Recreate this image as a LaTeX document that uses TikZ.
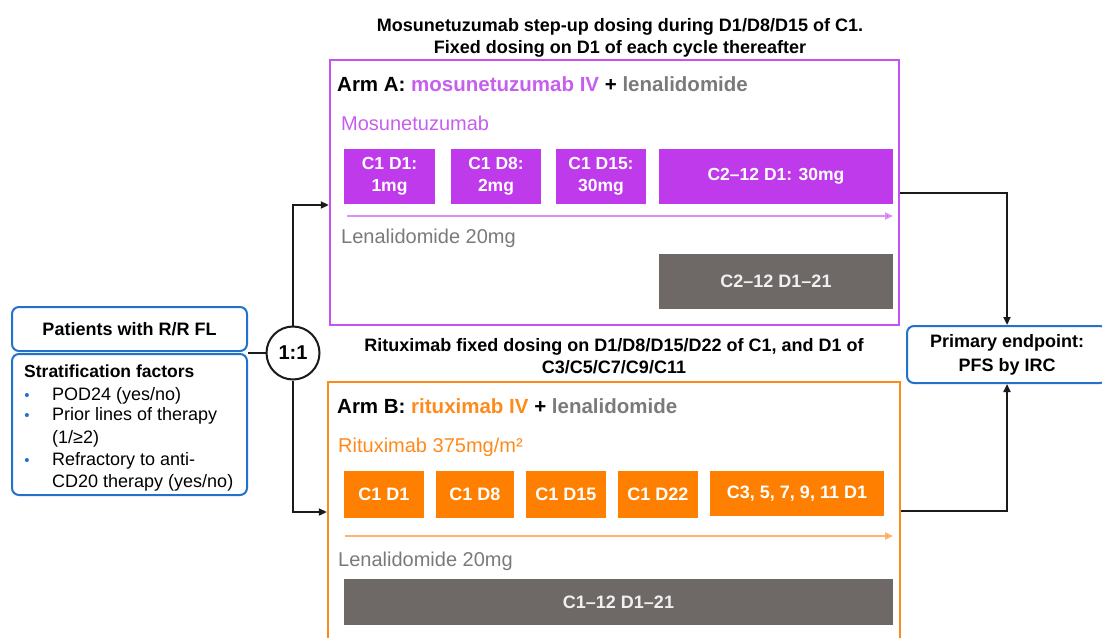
\documentclass[tikz,border=0pt]{standalone}
\usepackage{fontspec}
\setmainfont{Liberation Sans}
\usetikzlibrary{arrows.meta}
\definecolor{mpurple}{HTML}{BF3AEB}
\definecolor{mpurpleb}{HTML}{C453F0}
\definecolor{mtext}{HTML}{C65FEE}
\definecolor{mpurplel}{HTML}{DF8EF5}
\definecolor{rorange}{HTML}{FF8000}
\definecolor{rorangeb}{HTML}{FF8A1C}
\definecolor{rorangel}{HTML}{FFB36B}
\definecolor{dgray}{HTML}{6E6966}
\definecolor{tgray}{HTML}{7A7A7A}
\definecolor{bblue}{HTML}{2272CC}
\definecolor{lineblk}{HTML}{1A1A1A}
\newcommand{\fs}[2]{\fontsize{#1}{#2}\selectfont}
\tikzset{
  pbox/.style={fill=mpurple, text=white, font=\bfseries\fs{17.5}{22}, align=center, inner sep=0, minimum height=55},
  obox/.style={fill=rorange, text=white, font=\bfseries\fs{18}{22}, align=center, inner sep=0, minimum height=47},
  gbox/.style={fill=dgray, text=white!94!black, font=\bfseries\fs{18}{22}, align=center, inner sep=0},
  armframe/.style={line width=2.4, inner sep=0},
  bluebox/.style={draw=bblue, line width=2, rounded corners=7, inner sep=0, fill=white},
  txt/.style={inner sep=0, anchor=base west},
  ctxt/.style={inner sep=0, anchor=base},
  conn/.style={draw=lineblk, line width=2},
  arr/.style={conn, -{Triangle[length=8,width=7]}},
  bul/.style={inner sep=0, anchor=base, text=bblue, font=\fs{15}{18}},
}
\begin{document}
\begin{tikzpicture}[x=1pt,y=-1pt]
\useasboundingbox (0,0) rectangle (1102,637);

% titles
\node[ctxt, font=\bfseries\fs{18}{22}] (t1) at (620,31.5) {Mosunetuzumab step-up dosing during D1/D8/D15 of C1.};
\node[ctxt, font=\bfseries\fs{18}{22}] (t2) at (620,53) {Fixed dosing on D1 of each cycle thereafter};
\node[ctxt, font=\bfseries\fs{18}{22}] (t3) at (614,351) {Rituximab fixed dosing on D1/D8/D15/D22 of C1, and D1 of};
\node[ctxt, font=\bfseries\fs{18}{22}] (t4) at (614,373) {C3/C5/C7/C9/C11};

% Arm A
\node[armframe, draw=mpurpleb, minimum width=569, minimum height=265] (armA) at (614.5,192.5) {};
\node[txt, font=\bfseries\fs{20.5}{24}] (hA) at (337,91) {Arm A: \textcolor{mtext}{mosunetuzumab IV} + \textcolor{tgray}{lenalidomide}};
\node[txt, font=\fs{20}{24}, text=mtext] (mosu) at (341,130) {Mosunetuzumab};
\node[pbox, minimum width=91] (a1) at (389.5,176.5) {C1 D1:\\1mg};
\node[pbox, minimum width=90] (a2) at (496,176.5) {C1 D8:\\2mg};
\node[pbox, minimum width=90] (a3) at (601,176.5) {C1 D15:\\30mg};
\node[pbox, minimum width=234] (a4) at (776,176.5) {C2–12 D1: 30mg};
\coordinate (pa1) at (347,216);
\coordinate (pa2) at (893,216);
\draw[draw=mpurplel, line width=1.8, -{Triangle[length=8,width=7,fill=mpurple]}] (pa1) -- (pa2);
\node[txt, font=\fs{20}{24}, text=tgray] (lenA) at (341,243) {Lenalidomide 20mg};
\node[gbox, minimum width=234, minimum height=55] (ga) at (776,281.5) {C2–12 D1–21};

% Arm B
\node[armframe, draw=rorangeb, minimum width=572, minimum height=268] (armB) at (614,516) {};
\node[txt, font=\bfseries\fs{20.5}{24}] (hB) at (337,413) {Arm B: \textcolor{rorangeb}{rituximab IV} + \textcolor{tgray}{lenalidomide}};
\node[txt, font=\fs{20}{24}, text=rorangeb] (ritu) at (338,452) {Rituximab 375mg/m²};
\node[obox, minimum width=80] (b1) at (384,494.5) {C1 D1};
\node[obox, minimum width=78] (b2) at (475,494.5) {C1 D8};
\node[obox, minimum width=80.5] (b3) at (566,494.5) {C1 D15};
\node[obox, minimum width=80] (b4) at (658,494.5) {C1 D22};
\node[obox, minimum width=174.5, minimum height=45] (b5) at (797,493.5) {C3, 5, 7, 9, 11 D1};
\coordinate (ob1) at (345,536);
\coordinate (ob2) at (893,536);
\draw[draw=rorangel, line width=1.8, -{Triangle[length=8,width=7,fill=rorange]}] (ob1) -- (ob2);
\node[txt, font=\fs{20}{24}, text=tgray] (lenB) at (338,566) {Lenalidomide 20mg};
\node[gbox, minimum width=549, minimum height=46] (gb) at (618.5,602) {C1–12 D1–21};

% left boxes
\node[bluebox, minimum width=235, minimum height=141] (strat) at (129.5,424.5) {};
\node[bluebox, minimum width=235, minimum height=44, font=\bfseries\fs{18}{22}] (pat) at (129.5,329) {Patients with R/R FL};
\node[txt, font=\bfseries\fs{17.5}{22}] (sf) at (24,377) {Stratification factors};
\node[bul] (u1) at (27,400) {•};
\node[bul] (u2) at (27,420) {•};
\node[bul] (u3) at (27,465) {•};
\node[txt, font=\fs{18}{22}] (s1) at (52,400) {POD24 (yes/no)};
\node[txt, font=\fs{18}{22}] (s2) at (52,420) {Prior lines of therapy};
\node[txt, font=\fs{18}{22}] (s3) at (52,443) {(1/≥2)};
\node[txt, font=\fs{18}{22}] (s4) at (52,465) {Refractory to anti-};
\node[txt, font=\fs{18}{22}] (s5) at (52,487) {CD20 therapy (yes/no)};

% randomisation circle
\node[circle, draw=lineblk, line width=2, minimum size=53, inner sep=0, font=\bfseries\fs{20}{24}] (rand) at (293,353) {1:1};

% primary endpoint
\node[bluebox, minimum width=200, minimum height=57, align=center, font=\bfseries\fs{18}{24}] (prim) at (1007,354.5) {Primary endpoint:\\PFS by IRC};

% connectors
\draw[conn] (rand.west) -- (rand.west -| pat.east);
\draw[arr] (rand.north) |- ([yshift=-12.5]armA.west);
\draw[arr] (rand.south) |- ([yshift=4]armB.west);
\draw[arr] (armA.east) -| (prim.north);
\draw[arr] ([yshift=5]armB.east) -| (prim.south);
\end{tikzpicture}
\end{document}
